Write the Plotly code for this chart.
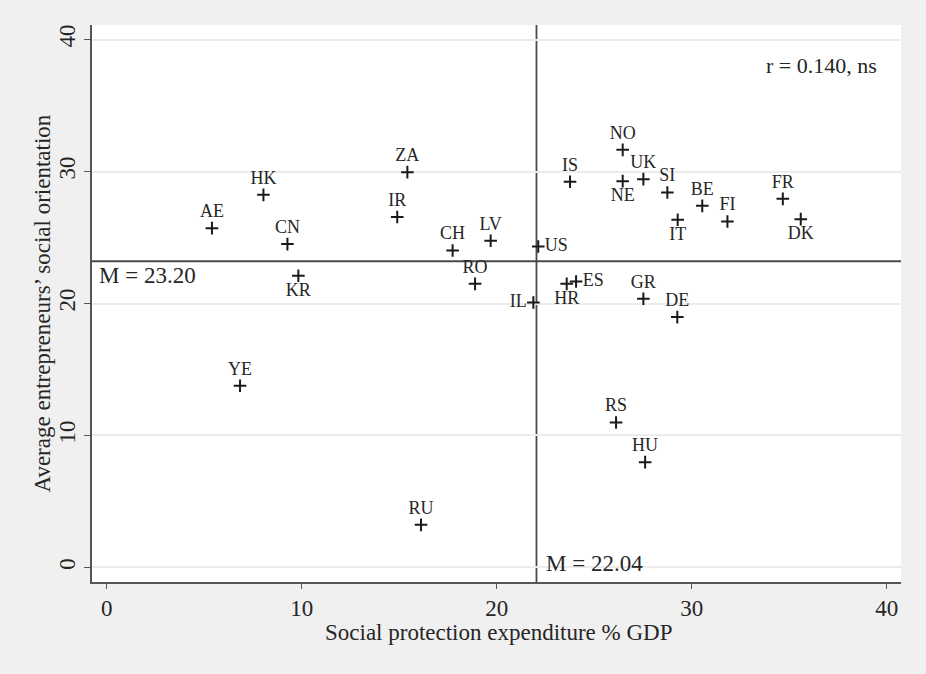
import plotly.graph_objects as go

countries = ["AE", "HK", "CN", "KR", "YE", "ZA", "IR", "CH", "LV", "RO", "RU",
             "IL", "US", "IS", "HR", "ES", "NO", "NE", "UK", "SI", "BE", "IT",
             "FI", "FR", "DK", "GR", "DE", "RS", "HU"]
social_expenditure = [5.40, 8.04, 9.27, 9.83, 6.84, 15.42, 14.90, 17.74, 19.69, 18.89, 16.12,
                      21.88, 22.13, 23.76, 23.59, 24.07, 26.46, 26.46, 27.52, 28.75, 30.54, 29.28,
                      31.83, 34.67, 35.59, 27.52, 29.26, 26.12, 27.61]
social_orientation = [25.71, 28.23, 24.50, 22.10, 13.77, 29.95, 26.55, 24.02, 24.75, 21.49, 3.23,
                      20.08, 24.32, 29.22, 21.49, 21.67, 31.64, 29.27, 29.42, 28.41, 27.40, 26.34,
                      26.21, 27.93, 26.39, 20.36, 18.97, 10.98, 7.98]
label_pos = ["top center", "top center", "top center", "bottom center", "top center",
             "top center", "top center", "top center", "top center", "top center", "top center",
             "middle left", "middle right", "top center", "bottom center", "middle right",
             "top center", "bottom center", "top center", "top center", "top center", "bottom center",
             "top center", "top center", "bottom center", "top center", "top center", "top center",
             "top center"]
mean_x = 22.04
mean_y = 23.20
r_text = "r = 0.140, ns"
x_title = "Social protection expenditure % GDP"
y_title = "Average entrepreneurs’ social orientation"
x_ticks = [0, 10, 20, 30, 40]
y_ticks = [0, 10, 20, 30, 40]

FONT = "Liberation Serif"
INK = "#1a1a1a"
TXT = "#262626"

fig = go.Figure()
fig.add_trace(go.Scatter(
    x=social_expenditure, y=social_orientation, text=countries,
    mode="markers+text", textposition=label_pos,
    marker=dict(symbol="cross-thin", size=9, color=INK, line=dict(color=INK, width=2)),
    textfont=dict(family=FONT, size=18, color=TXT),
    cliponaxis=False, showlegend=False,
))

fig.add_shape(type="line", xref="x", yref="paper", x0=mean_x, x1=mean_x, y0=0, y1=1,
              line=dict(color="#4a4a4a", width=1.8), layer="below")
fig.add_shape(type="line", xref="paper", yref="y", x0=0, x1=1, y0=mean_y, y1=mean_y,
              line=dict(color="#4a4a4a", width=1.8), layer="below")

fig.add_annotation(xref="paper", yref="y", x=0, y=mean_y, xanchor="left", yanchor="top",
                   text=f"M = {mean_y:.2f}", showarrow=False, xshift=5, yshift=0,
                   font=dict(family=FONT, size=23, color=TXT))
fig.add_annotation(xref="x", yref="paper", x=mean_x, y=0, xanchor="left", yanchor="bottom",
                   text=f"M = {mean_x:.2f}", showarrow=False, xshift=8, yshift=4,
                   font=dict(family=FONT, size=23, color=TXT))
fig.add_annotation(xref="paper", yref="paper", x=1, y=1, xanchor="right", yanchor="top",
                   text=r_text, showarrow=False, xshift=-22, yshift=-26,
                   font=dict(family=FONT, size=22, color=TXT))
# axis titles
fig.add_annotation(xref="paper", yref="paper", x=0.5, y=0, xanchor="center", yanchor="middle",
                   text=x_title, showarrow=False, xshift=2, yshift=-50, borderpad=0,
                   font=dict(family=FONT, size=23, color=TXT))
fig.add_annotation(xref="paper", yref="paper", x=0, y=0.5, xanchor="center", yanchor="middle",
                   text=y_title, showarrow=False, textangle=-90, xshift=-50,
                   font=dict(family=FONT, size=23, color=TXT))

fig.update_layout(
    width=926, height=674,
    paper_bgcolor="#f0f0f0", plot_bgcolor="#ffffff",
    margin=dict(l=92, r=25, t=25, b=92),
    font=dict(family=FONT, color="#333333"),
)
fig.update_xaxes(
    range=[-0.75, 40.73], tickvals=x_ticks, ticktext=[str(v) for v in x_ticks],
    showgrid=False, zeroline=False, showline=True, linecolor="#555555", linewidth=1.5,
    ticks="outside", ticklen=5, tickcolor="#555555", tickwidth=1.2,
    tickfont=dict(family=FONT, size=23, color=TXT),
)
fig.update_yaxes(
    range=[-1.1, 41.1], tickvals=y_ticks, ticktext=[str(v) for v in y_ticks],
    tickangle=-90,
    showgrid=True, gridcolor="#ececec", gridwidth=2, zeroline=False,
    showline=True, linecolor="#555555", linewidth=1.5,
    ticks="outside", ticklen=6, tickcolor="#555555", tickwidth=1.2,
    tickfont=dict(family=FONT, size=23, color=TXT),
)

fig.write_html("out.html", config={"displayModeBar": False},
               post_script="document.body.style.margin='0';")
